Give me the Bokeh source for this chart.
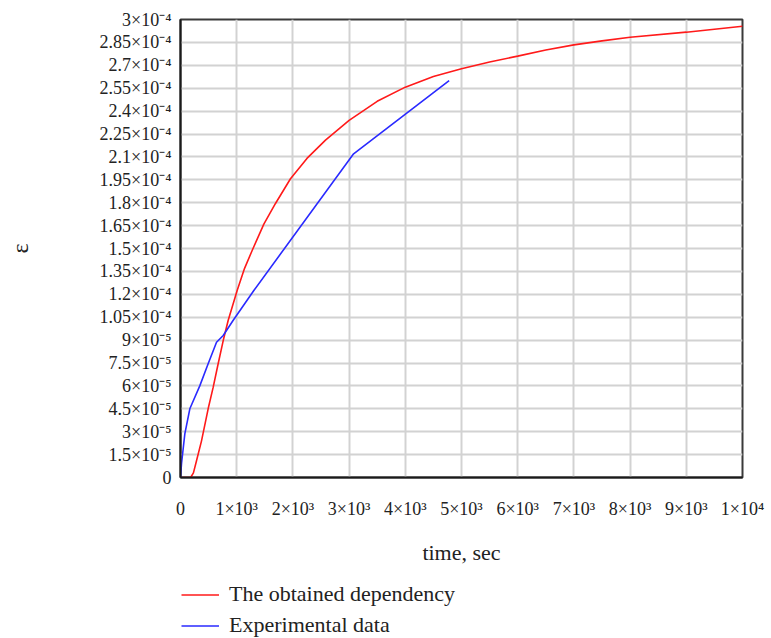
from bokeh.plotting import figure
from bokeh.layouts import column
from bokeh.models import (FixedTicker, Legend, LegendItem, Range1d,
                          CustomJSTickFormatter)
from bokeh.embed import file_html
from bokeh.resources import INLINE

# ---- data ----
red_time = [0, 180, 230, 285, 374, 492, 581, 670, 760, 849, 1008, 1140, 1275,
            1483, 1690, 1957, 2250, 2580, 3000, 3500, 4000, 4500, 5000, 5500,
            6000, 6500, 7000, 7500, 8000, 9000, 10000]
red_strain = [0, 0, 3.0e-6, 1.1e-5, 2.4e-5, 4.5e-5, 5.9e-5, 7.45e-5, 8.97e-5,
              1.03e-4, 1.225e-4, 1.37e-4, 1.487e-4, 1.66e-4, 1.795e-4, 1.957e-4,
              2.09e-4, 2.21e-4, 2.339e-4, 2.464e-4, 2.557e-4, 2.626e-4,
              2.677e-4, 2.722e-4, 2.76e-4, 2.8e-4, 2.834e-4, 2.86e-4, 2.884e-4,
              2.917e-4, 2.956e-4]

blue_time = [0, 18, 77, 166, 343, 492, 641, 760, 938, 1305, 3080, 4780]
blue_strain = [0, 0.9e-5, 2.86e-5, 4.5e-5, 6.0e-5, 7.45e-5, 8.86e-5, 9.3e-5,
               1.03e-4, 1.225e-4, 2.12e-4, 2.60e-4]

x_ticks = [0, 1000, 2000, 3000, 4000, 5000, 6000, 7000, 8000, 9000, 10000]
x_tick_labels = ["0", "1×10³", "2×10³", "3×10³", "4×10³", "5×10³", "6×10³",
                 "7×10³", "8×10³", "9×10³", "1×10⁴"]

y_ticks = [0, 1.5e-5, 3e-5, 4.5e-5, 6e-5, 7.5e-5, 9e-5, 1.05e-4, 1.2e-4,
           1.35e-4, 1.5e-4, 1.65e-4, 1.8e-4, 1.95e-4, 2.1e-4, 2.25e-4, 2.4e-4,
           2.55e-4, 2.7e-4, 2.85e-4, 3e-4]
y_tick_labels = ["0", "1.5×10⁻⁵", "3×10⁻⁵", "4.5×10⁻⁵", "6×10⁻⁵", "7.5×10⁻⁵",
                 "9×10⁻⁵", "1.05×10⁻⁴", "1.2×10⁻⁴", "1.35×10⁻⁴", "1.5×10⁻⁴",
                 "1.65×10⁻⁴", "1.8×10⁻⁴", "1.95×10⁻⁴", "2.1×10⁻⁴", "2.25×10⁻⁴",
                 "2.4×10⁻⁴", "2.55×10⁻⁴", "2.7×10⁻⁴", "2.85×10⁻⁴", "3×10⁻⁴"]

series_names = ["The obtained dependency", "Experimental data"]
series_colors = ["#ff1a1a", "#2a2aff"]
x_label = "time, sec"
y_label = "ε"

FONT = "Liberation Serif"
TXT = "#222222"

# ---------------- main chart ----------------
p = figure(width=771, height=578, output_backend="svg", toolbar_location=None,
           x_range=Range1d(0, 10000), y_range=Range1d(0, 3e-4),
           min_border_left=180, min_border_right=29, min_border_top=19,
           min_border_bottom=101)
p.background_fill_color = "white"
p.border_fill_color = "white"
p.outline_line_color = "#3a3a3a"
p.outline_line_width = 2

fmt_code = """
let best = 0, bd = Infinity;
for (let i = 0; i < tvals.length; i++) {
  const d = Math.abs(tvals[i] - tick);
  if (d < bd) { bd = d; best = i; }
}
return tlabels[best];
"""

for ax, ticks, labels in ((p.xaxis[0], x_ticks, x_tick_labels),
                          (p.yaxis[0], y_ticks, y_tick_labels)):
    ax.ticker = FixedTicker(ticks=ticks)
    ax.formatter = CustomJSTickFormatter(args=dict(tvals=ticks, tlabels=labels),
                                         code=fmt_code)
    ax.major_tick_line_color = None
    ax.minor_tick_line_color = None
    ax.axis_line_color = "#1a1a1a"
    ax.axis_line_width = 2
    ax.major_label_text_font = FONT
    ax.major_label_text_font_size = "18px"
    ax.major_label_text_color = TXT
    ax.axis_label_text_font = FONT
    ax.axis_label_text_font_style = "normal"
    ax.axis_label_text_color = TXT

p.xaxis.axis_label = x_label
p.xaxis.axis_label_text_font_size = "22px"
p.xaxis.major_label_standoff = 15
p.xaxis.axis_label_standoff = 18

p.yaxis.axis_label = y_label
p.yaxis.axis_label_text_font_size = "24px"
p.yaxis.major_label_standoff = 3
p.yaxis.axis_label_standoff = 64

p.xgrid.ticker = FixedTicker(ticks=x_ticks)
p.ygrid.ticker = FixedTicker(ticks=y_ticks)
for g in (p.xgrid[0], p.ygrid[0]):
    g.grid_line_color = "#d2d2d2"
    g.grid_line_width = 2

p.line(red_time, red_strain, line_color=series_colors[0], line_width=1.6)
p.line(blue_time, blue_strain, line_color=series_colors[1], line_width=1.6)

# ---------------- legend strip below the chart ----------------
# same series drawn again, but kept outside this strip's view range, so only
# their legend keys show
pl = figure(width=771, height=60, output_backend="svg", toolbar_location=None,
            x_range=Range1d(-2, -1), y_range=Range1d(-2, -1),
            x_axis_type=None, y_axis_type=None,
            min_border_left=0, min_border_right=0, min_border_top=0,
            min_border_bottom=0)
pl.grid.visible = False
pl.outline_line_color = None
pl.background_fill_color = "white"
pl.border_fill_color = "white"
k_red = pl.line(red_time, red_strain, line_color=series_colors[0], line_width=1.6)
k_blue = pl.line(blue_time, blue_strain, line_color=series_colors[1], line_width=1.6)

legend = Legend(
    items=[LegendItem(label=series_names[0], renderers=[k_red]),
           LegendItem(label=series_names[1], renderers=[k_blue])],
    location=(1, 0), orientation="vertical",
    border_line_color=None, background_fill_alpha=0,
    padding=0, margin=0, spacing=5,
    glyph_width=38, glyph_height=25, label_standoff=10,
    label_text_font=FONT, label_text_font_size="22px",
    label_text_color=TXT)
pl.add_layout(legend, "center")

layout = column(p, pl, spacing=0)
open("out.html", "w").write(file_html(layout, INLINE))
